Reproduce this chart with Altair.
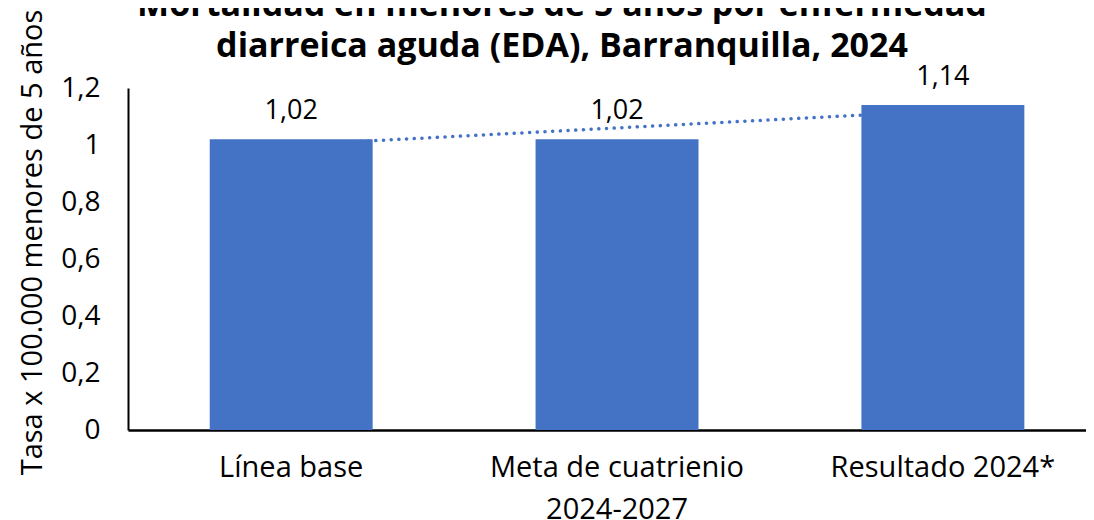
import altair as alt
import numpy as np
import pandas as pd

categories = ["Línea base", "Meta de cuatrienio|2024-2027", "Resultado 2024*"]
values = [1.02, 1.02, 1.14]
y_ticks = [0, 0.2, 0.4, 0.6, 0.8, 1.0, 1.2]
title_lines = ["Mortalidad en menores de 5 años por enfermedad",
               "diarreica aguda (EDA), Barranquilla, 2024"]
y_title = "Tasa x 100.000 menores de 5 años"

# linear trendline (Excel-style) fitted on the category index
idx = np.arange(1, len(values) + 1)
slope, intercept = np.polyfit(idx, values, 1)
trend = [float(slope * i + intercept) for i in idx]

df = pd.DataFrame({"cat": categories, "value": values, "trend": trend})

FONT = "Open Sans"
BLUE = "#4472C4"

x_enc = alt.X(
    "cat:N", sort=categories,
    scale=alt.Scale(paddingInner=0.5, paddingOuter=0.22, align=0.57),
    axis=alt.Axis(title=None, labelAngle=0, labelExpr="split(datum.label, '|')",
                  labelFontSize=29, labelFont=FONT, labelColor="black",
                  labelPadding=23, labelLineHeight=42, labelLimit=0, ticks=False,
                  domainColor="black", domainWidth=2.5),
)
y_scale = alt.Scale(domain=[0, 1.2], nice=False)

base = alt.Chart(df)

line = base.mark_line(color=BLUE, strokeWidth=3.5, strokeDash=[0.1, 7.6],
                      strokeCap="round").encode(
    x=x_enc,
    y=alt.Y("trend:Q", scale=y_scale),
)

bars = base.mark_bar(color=BLUE).encode(
    x=x_enc,
    y=alt.Y("value:Q", scale=y_scale,
            axis=alt.Axis(values=y_ticks, grid=False, ticks=False,
                          labelExpr="replace(format(datum.value, '~g'), '.', ',')",
                          labelFontSize=28, labelFont=FONT, labelColor="black",
                          labelPadding=28, domainColor="black", domainWidth=2,
                          title=y_title, titleFont=FONT, titleFontSize=29,
                          titleFontWeight="normal", titleColor="black",
                          titleAngle=-90, titleAlign="center",
                          titleBaseline="middle", titleX=-96, titleY=154)),
)

labels = base.transform_calculate(
    lbl="replace(format(datum.value, '.2f'), '.', ',')"
).mark_text(baseline="alphabetic", dy=-20, fontSize=27, font=FONT, color="black").encode(
    x=alt.X("cat:N", sort=categories),
    y=alt.Y("value:Q", scale=y_scale),
    text="lbl:N",
)

chart = alt.layer(line, bars, labels).properties(
    width=958,
    height=342,
    title=alt.TitleParams(title_lines, fontSize=34, font=FONT, fontWeight="bold",
                          color="black", anchor="middle", dx=-45, offset=0, dy=55,
                          lineHeight=41),
    autosize=alt.AutoSizeParams(type="none"),
    padding={"left": 120, "top": 80, "right": 0, "bottom": 90},
).configure_view(stroke=None)

chart.save("out.html", embed_options={"renderer": "svg", "actions": False})
